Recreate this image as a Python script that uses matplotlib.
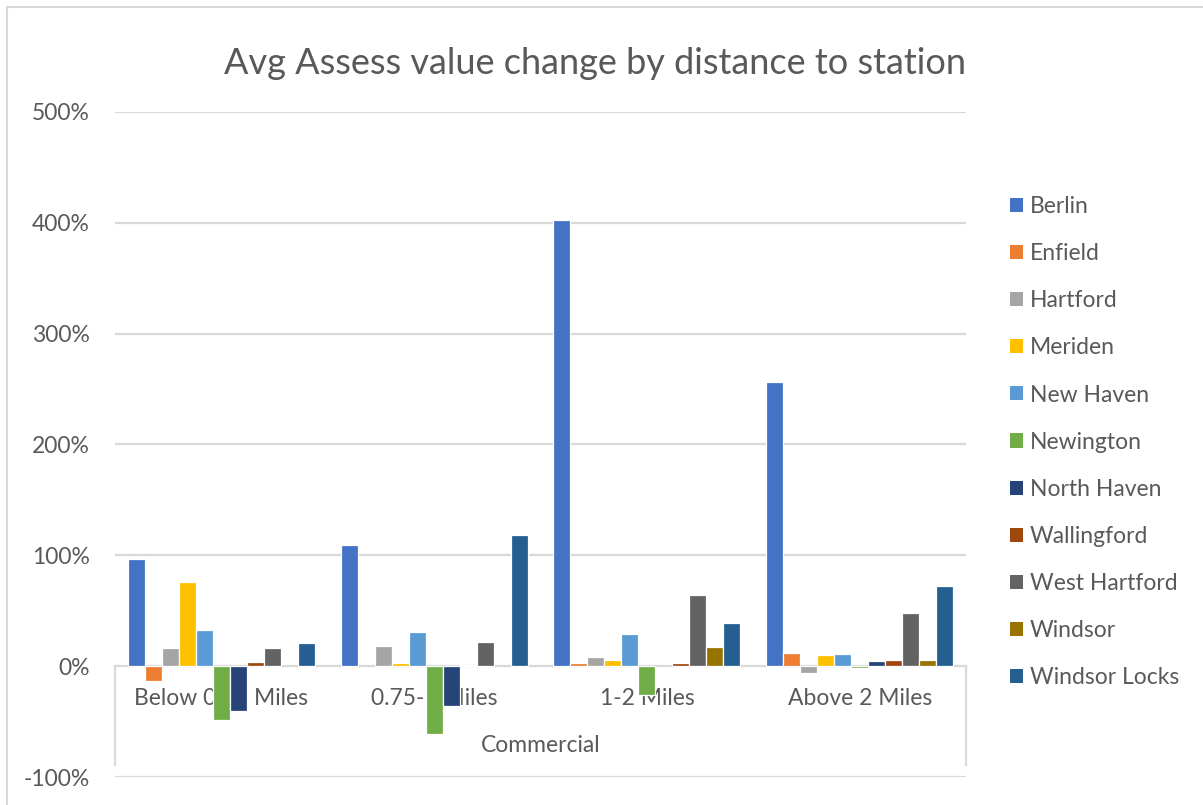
#!/usr/bin/env python3
"""Avg assess value change by distance to station, grouped bars."""
import numpy as np
import matplotlib.pyplot as plt
from matplotlib.lines import Line2D
from matplotlib.patches import Patch

plt.rcParams["font.family"] = ["Lato", "DejaVu Sans"]

groups = ["Below 0.75 Miles", "0.75-1 Miles", "1-2 Miles", "Above 2 Miles"]
towns = ["Berlin", "Enfield", "Hartford", "Meriden", "New Haven", "Newington",
         "North Haven", "Wallingford", "West Hartford", "Windsor", "Windsor Locks"]
colors = ["#4472c4", "#ed7d31", "#a5a5a5", "#ffc000", "#5b9bd5", "#70ad47",
          "#264478", "#9e480e", "#636363", "#997300", "#255e91"]

# percent change, one list per distance band (nan = no bar)
below_075 = [97, -13, 16, 76, 33, -49, -40, 4, 16, np.nan, 21]
from_075_1 = [109, np.nan, 18, 3, 31, -61, -36, 1.5, 22, np.nan, 118]
from_1_2 = [403, 3, 8, 6, 29, -26, np.nan, 3, 64, 17, 39]
above_2 = [256, 12, -6, 10, 11, -2, 5, 6, 48, 6, 72]

values = np.array([below_075, from_075_1, from_1_2, above_2]) / 100.0

fig = plt.figure(figsize=(12.03, 8.05), dpi=100)
ax = fig.add_axes([115 / 1203, 28 / 805, 851 / 1203, 665 / 805])

grid_c = "#d9d9d9"
text_c = "#595959"

x = np.arange(len(groups))
slot = 17 / 212.75
for i, (town, col) in enumerate(zip(towns, colors)):
    offs = (i - 5) * slot
    ax.bar(x + offs, values[:, i], width=slot, color=col, edgecolor="white",
           linewidth=0.9, zorder=3, label=town)

ax.set_xlim(-0.5, 3.5)
ax.set_ylim(-1, 5)
ax.set_yticks(np.arange(-1, 6))
ax.set_yticklabels([f"{int(v * 100)}%" for v in np.arange(-1, 6)],
                   color=text_c, fontsize=16.5)
ax.tick_params(axis="y", length=0, pad=18)
ax.set_xticks([])
for s in ax.spines.values():
    s.set_visible(False)
for v in np.arange(-1, 6):
    ax.axhline(v, color=grid_c, linewidth=1.6, zorder=1)

# multi-level category axis box
for xv in (-0.5, 3.5):
    ax.plot([xv, xv], [0, -0.89], color=grid_c, linewidth=1.6, zorder=1,
            clip_on=False)
for xi, g in zip(x, groups):
    ax.text(xi, -0.29, g, ha="center", va="center", fontsize=16.5,
            color=text_c, zorder=2)
ax.text(1.5, -0.72, "Commercial", ha="center", va="center", fontsize=16.5,
        color=text_c, zorder=2)

fig.text(595 / 1203, 1 - 64 / 805,
         "Avg Assess value change by distance to station",
         ha="center", va="center", fontsize=26, color=text_c)

handles = [Patch(facecolor=c, edgecolor="none") for c in colors]
leg = fig.legend(handles, towns, loc="upper left",
                 bbox_to_anchor=(1010 / 1203, 1 - 196 / 805), frameon=False,
                 fontsize=16.5, handlelength=0.57, handleheight=0.57,
                 handletextpad=0.3, labelspacing=1.14, borderpad=0,
                 borderaxespad=0)
for t in leg.get_texts():
    t.set_color(text_c)

# chart border (left and top are visible)
fig.add_artist(Line2D([7 / 1203, 7 / 1203], [0, 1 - 7 / 805],
                      color=grid_c, linewidth=1.5))
fig.add_artist(Line2D([7 / 1203, 1], [1 - 7 / 805, 1 - 7 / 805],
                      color=grid_c, linewidth=1.5))

fig.savefig("out.png", dpi=100, facecolor="white")
